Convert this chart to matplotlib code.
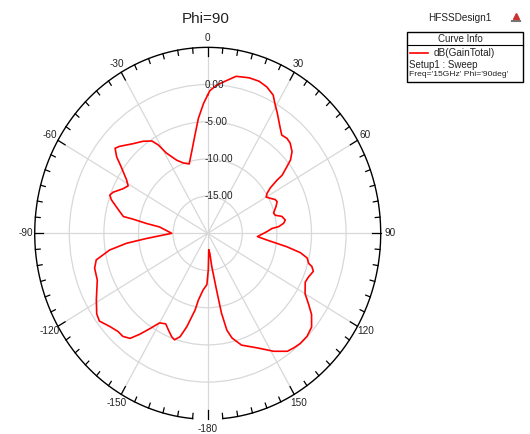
import numpy as np
import matplotlib.pyplot as plt
from matplotlib.patches import Rectangle
from matplotlib.lines import Line2D

# dB(GainTotal) cut at Phi = 90 deg, 15 GHz
theta_deg = [0, 1, 3.7, 7, 11, 16, 20, 23.5, 27, 29, 32, 36, 39, 42, 44.5, 48,
             50.5, 52, 54, 54.5, 56, 58, 60, 62.5, 65, 67, 70, 74, 76, 78, 81,
             83, 85, 86, 88.5, 93.5, 96, 99, 101, 103, 105.5, 106.5, 108.5, 112,
             115, 120, 123, 126, 130, 134, 138, 141, 144, 149, 155, 162, 166,
             168, 169.5, 170.5, 172.5, 173.5, 176, 179, 181, 185, 188.5, 190,
             193.5, 196, 198.5, 200.5, 203.5, 206.5, 210, 213, 216, 218.5,
             221.5, 224.5, 228.5, 233, 236, 241, 248.5, 254, 257.5, 261, 263.5,
             265.5, 270, 277, 278.5, 280, 280.5, 285, 288, 290, 292, 296, 299,
             301.5, 305.5, 308, 310.5, 312.5, 318, 323, 327, 329, 331, 335.5,
             339.5, 344, 348.5, 352, 355, 358, 360]
gain_db = [-1.4, -0.8, -0.05, 0.6, 1.5, 1.75, 1.75, 1.45, 0.85, 0.0, -1.0,
           -2.25, -3.0, -2.85, -3.0, -3.6, -4.5, -5.5, -6.7, -7.7, -9.1, -9.9,
           -10.25, -9.8, -9.25, -9.1, -9.5, -10.1, -9.95, -9.05, -8.65, -8.95,
           -9.7, -10.7, -11.45, -12.8, -11.4, -8.4, -6.35, -5.25, -4.85, -4.3,
           -3.9, -4.3, -4.45, -3.75, -2.65, -1.45, -0.4, -0.05, -0.05, -0.2,
           -0.4, -1.5, -3.0, -4.2, -5.5, -6.7, -9.1, -12.3, -15.5, -17.3,
           -17.8, -15.1, -13.1, -12.35, -10.95, -9.55, -7.1, -5.55, -4.9,
           -5.15, -5.8, -6.4, -6.1, -4.75, -3.2, -1.95, -1.5, -1.5, -1.1, -0.4,
           -0.65, -1.6, -2.85, -3.0, -3.5, -5.65, -8.2, -11.1, -14.8, -13.0,
           -11.05, -9.05, -7.6, -6.35, -5.35, -4.95, -5.25, -6.35, -6.85,
           -6.25, -4.65, -3.3, -2.4, -2.7, -3.8, -4.5, -5.2, -6.15, -7.65,
           -9.2, -9.9, -10.3, -8.6, -6.7, -4.5, -2.55, -1.4]

ring_levels = [-15, -10, -5, 0]
ring_labels = ['-15.00', '-10.00', '-5.00', '0.00']
angle_ticks = [0, 30, 60, 90, 120, 150, 180, 210, 240, 270, 300, 330]
angle_labels = ['0', '30', '60', '90', '120', '150', '-180', '-150', '-120',
                '-90', '-60', '-30']

plt.rcParams['font.family'] = ['Liberation Sans', 'DejaVu Sans']

fig = plt.figure(figsize=(5.3, 4.34), dpi=100)
ax = fig.add_axes([0.0655, 0.0339, 0.6528, 0.857], projection='polar')
ax.set_aspect('auto')
ax.set_theta_zero_location('N')
ax.set_theta_direction(-1)
ax.set_ylim(-20, 5)

ax.plot(np.deg2rad(theta_deg), gain_db, color='#ff0000', lw=1.2, zorder=5)

# grid and rings
ax.set_yticks(ring_levels)
ax.set_yticklabels([])
ax.set_xticks(np.deg2rad(angle_ticks))
ax.set_xticklabels([])
ax.tick_params(axis='x', length=0)
ax.grid(True, color='#d8d8d8', lw=0.9)
for lvl, txt in zip(ring_levels, ring_labels):
    ax.annotate(txt, xy=(0, lvl), xytext=(-2, 0), textcoords='offset points',
                ha='left', va='center', fontsize=7.2, color='#222222', zorder=6)

# outer scale: arc with a gap at the bottom, ticks every 5 deg
ax.spines['polar'].set_visible(False)
arc = np.deg2rad(np.arange(-175, 175.5, 0.5))
ax.plot(arc, np.full(arc.shape, 5.0), color='black', lw=1.0, clip_on=False)
for a in range(0, 360, 5):
    tick_len = 1.2 if a % 30 == 0 else 0.7
    ax.plot([np.deg2rad(a)] * 2, [5.0, 5.0 - tick_len], color='black',
            lw=0.9, clip_on=False)

for a, txt in zip(angle_ticks, angle_labels):
    ax.text(np.deg2rad(a), 6.3, txt, ha='center', va='center', fontsize=7.2,
            color='#222222', clip_on=False)

fig.text(206 / 530, 1 - 19 / 434, 'Phi=90', ha='center', va='center',
         fontsize=11, color='#222222')

# curve info box
W, H = 530, 434
fig.text(460 / W, 1 - 18 / H, 'HFSSDesign1', ha='center', va='center',
         fontsize=7.2, color='#222222')
fig.patches.append(Rectangle((406.7 / W, 1 - 81.7 / H), (523.3 - 406.7) / W,
                             (81.7 - 31.7) / H, transform=fig.transFigure,
                             fill=False, edgecolor='black', lw=1.0))
fig.lines.append(Line2D([406.7 / W, 523.3 / W], [1 - 45 / H, 1 - 45 / H],
                        transform=fig.transFigure, color='black', lw=0.8))
fig.text(460 / W, 1 - 38.5 / H, 'Curve Info', ha='center', va='center',
         fontsize=7.0, color='#222222')
fig.lines.append(Line2D([410 / W, 428 / W], [1 - 53 / H, 1 - 53 / H],
                        transform=fig.transFigure, color='#ff0000', lw=1.2))
fig.text(434 / W, 1 - 53 / H, 'dB(GainTotal)', ha='left', va='center',
         fontsize=7.2, color='#222222')
fig.text(409 / W, 1 - 65 / H, 'Setup1 : Sweep', ha='left', va='center',
         fontsize=7.0, color='#222222')
fig.text(409 / W, 1 - 74.5 / H, "Freq='15GHz' Phi='90deg'", ha='left',
         va='center', fontsize=6.1, color='#222222')

# small logo mark next to the design name
fig.lines.append(Line2D([512 / W, 520 / W], [1 - 21 / H, 1 - 21 / H],
                        transform=fig.transFigure, color='#777777', lw=1.5))
fig.lines.append(Line2D([516 / W], [1 - 16 / H], marker='^', ms=5,
                        transform=fig.transFigure, color='#cc3333'))

fig.savefig('out.png', dpi=100)
